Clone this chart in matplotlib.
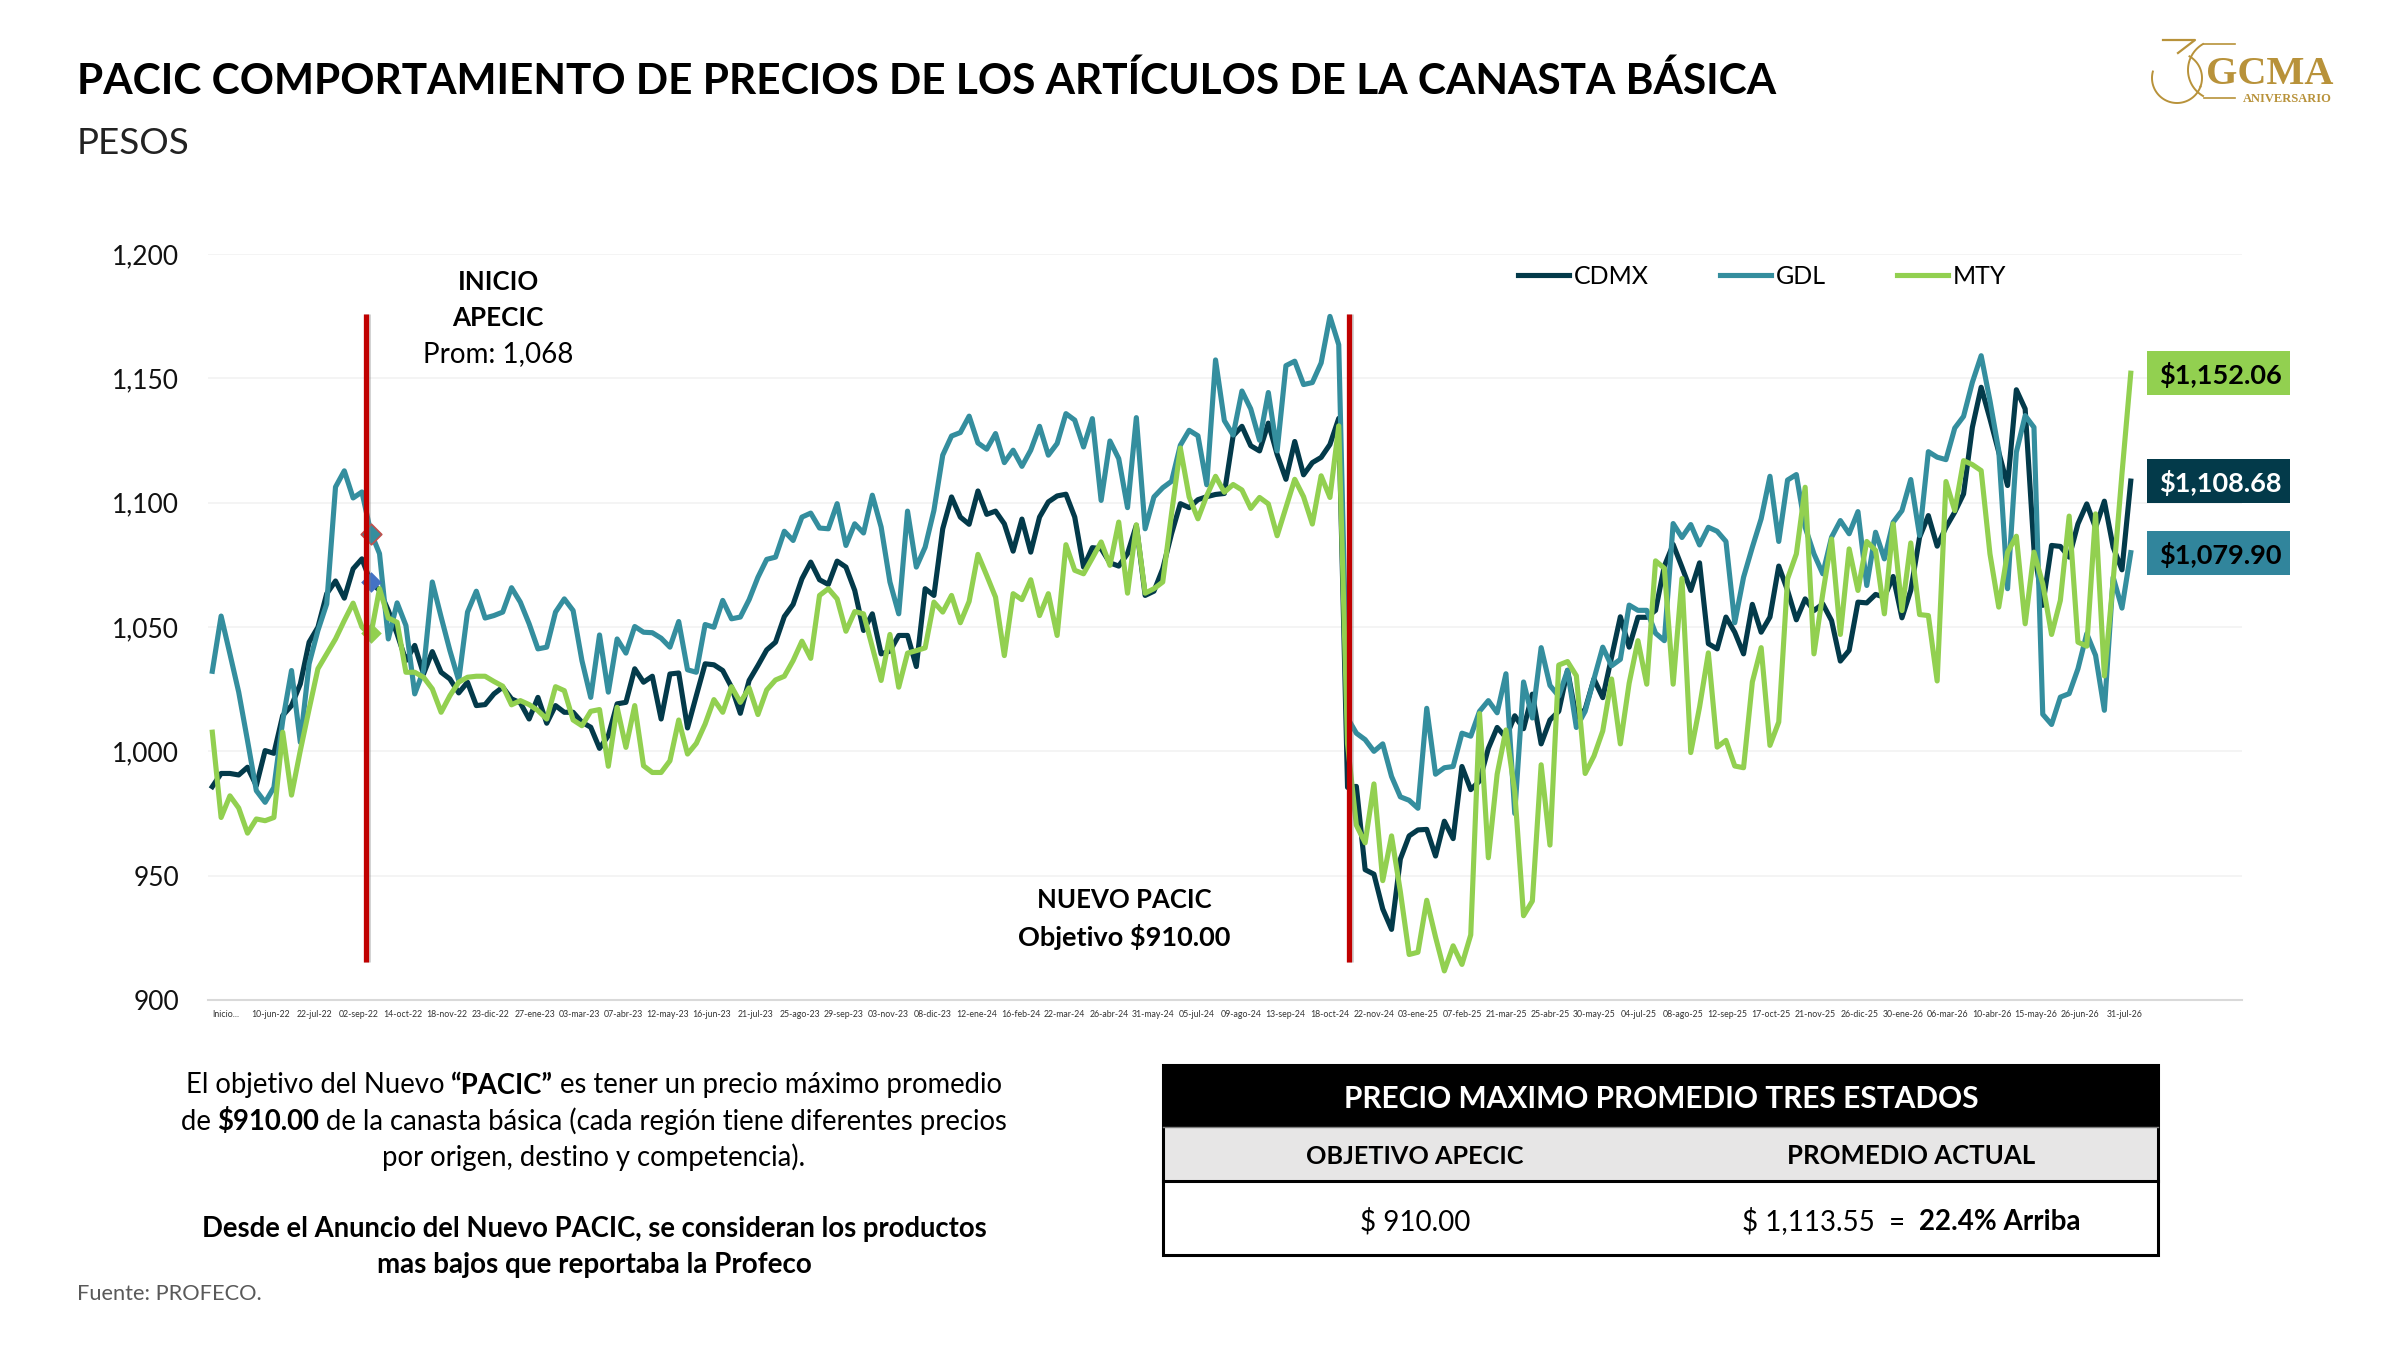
import matplotlib
matplotlib.use("Agg")
import matplotlib.pyplot as plt
from matplotlib.patches import Rectangle
import numpy as np

plt.rcParams["font.family"] = ["Lato", "DejaVu Sans"]

cdmx = [
    985.8, 991.1, 991.1, 990.5, 993.6, 986.2, 1000.3, 999.2, 1014.4, 1018.4,
    1027.1, 1043.9, 1049.9, 1063.4, 1068.5, 1061.6, 1073.4, 1077.4, 1068.1, 1064.7,
    1056.6, 1047.2, 1036.5, 1042.6, 1031.1, 1040.1, 1031.8, 1029.1, 1023.5, 1027.8,
    1018.4, 1018.8, 1023.1, 1025.8, 1021.1, 1019.5, 1013, 1021.7, 1011.3, 1018.4,
    1015.7, 1015.7, 1011.7, 1009.7, 1001.2, 1006.3, 1019.1, 1019.7, 1033.2, 1027.8,
    1030.2, 1013, 1031.1, 1031.5, 1009.4, 1022.4, 1035.2, 1034.8, 1032.5, 1025.8,
    1015.3, 1028.5, 1034.5, 1040.8, 1043.9, 1054.2, 1059.1, 1069.4, 1076.1, 1069,
    1067.1, 1076.5, 1074.1, 1064.7, 1048.6, 1055.3, 1039.2, 1040.3, 1046.6, 1046.6,
    1034.1, 1065.4, 1062.7, 1089.5, 1102.3, 1094.2, 1091.3, 1104.7, 1095.3, 1096.6,
    1091.5, 1080.5, 1093.4, 1080.1, 1094.2, 1100.3, 1102.7, 1103.4, 1094.2, 1074.1,
    1081.9, 1081.5, 1075.8, 1074.5, 1079.5, 1090.9, 1062.7, 1064.4, 1073.4, 1087.5,
    1099.6, 1098, 1101.2, 1102.4, 1103.3, 1103.7, 1126.9, 1130.7, 1122.9, 1120.8,
    1132, 1119.4, 1109.4, 1124.6, 1111.2, 1116.1, 1118.2, 1123.4, 1133.9, 985.5,
    985.9, 952.4, 950.6, 936.6, 928.4, 956.7, 966, 968.4, 968.6, 957.9,
    971.9, 964.9, 993.9, 984.6, 988.1, 1001.2, 1009.6, 1005.6, 1014.3, 1009.1,
    1023, 1003, 1012.6, 1016.1, 1032.6, 1013.4, 1016.9, 1029.1, 1021.6, 1037.9,
    1054.1, 1041.9, 1053.9, 1053.9, 1056.7, 1074.5, 1083.2, 1074.1, 1064.7, 1075.8,
    1043.3, 1041.2, 1054, 1047.9, 1039.2, 1059.1, 1047.9, 1054, 1074.5, 1064.7,
    1052.9, 1061.3, 1056.6, 1059.3, 1052.6, 1036.3, 1040.6, 1060, 1059.7, 1063.1,
    1062, 1070.3, 1053.7, 1064.7, 1086.1, 1094.8, 1082.5, 1090.1, 1096.2, 1103.5,
    1130.3, 1146.4, 1133.7, 1120.3, 1106.9, 1145.4, 1137.7, 1081.4, 1058.7, 1082.8,
    1082.4, 1078.1, 1091.5, 1099.5, 1089.9, 1100.6, 1082.1, 1073, 1108.68,
]

gdl = [
    1032.2, 1054.4, 1039.2, 1023.8, 1004.3, 984.2, 979.5, 985.5, 1012.3, 1032.5,
    1003.6, 1035.2, 1048.6, 1059.3, 1106.3, 1112.8, 1101.9, 1104.3, 1088.2, 1079.5,
    1045.2, 1059.7, 1050.6, 1023.1, 1032.5, 1068.1, 1054, 1040.5, 1028.5, 1056,
    1064.4, 1053.6, 1054.6, 1056, 1065.8, 1060, 1051.3, 1041.2, 1041.9, 1056,
    1061.3, 1056.6, 1036.5, 1021.7, 1046.8, 1023.8, 1045.2, 1039.5, 1050.2, 1047.9,
    1047.7, 1045.5, 1041.9, 1052.2, 1032.8, 1031.8, 1051, 1049.9, 1060.7, 1053.3,
    1054, 1061, 1070, 1077.2, 1078.1, 1088.5, 1084.8, 1094.2, 1095.8, 1089.8,
    1089.5, 1099.6, 1082.8, 1091.5, 1087.8, 1103, 1090.2, 1068.1, 1055.3, 1096.6,
    1074.1, 1082.1, 1096.9, 1119.1, 1126.8, 1128.2, 1134.8, 1124, 1121.5, 1127.8,
    1116.1, 1121.1, 1114.6, 1121.1, 1130.7, 1119.1, 1123.8, 1135.8, 1133.2, 1122.4,
    1133.8, 1100.9, 1124.8, 1117.7, 1098, 1134.2, 1089.5, 1102.3, 1106, 1108.6,
    1123.1, 1129.1, 1126.9, 1107.2, 1157.4, 1133, 1127.2, 1144.9, 1137.7, 1125.1,
    1144.3, 1120.8, 1155.1, 1156.9, 1147.5, 1148.3, 1156.2, 1174.9, 1163.5, 1013.4,
    1007.3, 1004.7, 1000, 1003, 989.9, 981.7, 980.3, 977.1, 1017.3, 990.8,
    993.4, 993.9, 1007.3, 1006.1, 1016.1, 1020.4, 1015.5, 1031.2, 975, 1027.9,
    1013.4, 1041.7, 1026.5, 1022.2, 1032.6, 1009.6, 1016.1, 1029.1, 1041.9, 1034.4,
    1037, 1058.8, 1056.7, 1056.7, 1047.5, 1044.5, 1091.6, 1086, 1091.2, 1083,
    1090.1, 1088.5, 1084.4, 1051.7, 1070, 1082.1, 1093.5, 1110.6, 1084.4, 1109.1,
    1111.3, 1090.1, 1079.4, 1071.4, 1086.1, 1092.8, 1087.5, 1096.4, 1066.7, 1088.1,
    1077.4, 1092.1, 1096.8, 1109.3, 1086.8, 1120.5, 1118.3, 1117.3, 1130, 1134.7,
    1148.4, 1159.1, 1141, 1120.9, 1065.4, 1120.3, 1135, 1130.3, 1014.9, 1010.8,
    1021.8, 1023.2, 1033.2, 1047.3, 1038.6, 1016.5, 1070, 1057.6, 1079.9,
]

mty = [
    1007.7, 973.4, 982.1, 977.2, 967.1, 972.8, 972.1, 973.4, 1007.7, 982.4,
    1000.3, 1017, 1033.2, 1039.2, 1045.2, 1052.6, 1059.6, 1050, 1046.6, 1065.4,
    1053.6, 1051.9, 1031.8, 1031.8, 1029.8, 1025.1, 1015.7, 1022.4, 1027.8, 1029.8,
    1030.2, 1030.2, 1028.1, 1026.2, 1018.7, 1020.4, 1018.8, 1016.4, 1013, 1026,
    1024.4, 1012.6, 1010.3, 1016.1, 1016.8, 994, 1017.7, 1001.6, 1018.4, 994.2,
    991.5, 991.5, 996.2, 1012.6, 998.9, 1003.2, 1011, 1020.8, 1015.7, 1026,
    1019.7, 1025.5, 1014.8, 1024.7, 1028.7, 1030.2, 1036.5, 1044.3, 1037.4, 1062.7,
    1065.4, 1061.3, 1048.3, 1056.2, 1055.3, 1041.9, 1028.5, 1047, 1025.8, 1039.5,
    1040.5, 1041.6, 1060, 1056, 1062.7, 1051.7, 1060.3, 1079.2, 1070.7, 1062,
    1038.5, 1063.4, 1061, 1069, 1054.6, 1063.4, 1046.6, 1083.1, 1072.8, 1071.4,
    1077.7, 1084.2, 1074.8, 1092.2, 1063.6, 1091.1, 1063.6, 1065.4, 1068.1, 1095.6,
    1122, 1102.3, 1093.5, 1102.8, 1110.6, 1104.2, 1107.3, 1105.1, 1097.7, 1102.1,
    1099.5, 1086.7, 1098.1, 1109.4, 1102.4, 1091.4, 1110.8, 1102.1, 1130.9, 1003,
    970.3, 963.2, 986.9, 948, 966, 943.6, 918.3, 919.2, 940.1, 925.3,
    911.7, 921.8, 914.3, 926.2, 1015.2, 957.2, 990.8, 1008.6, 983.8, 933.9,
    939.8, 994.6, 962.3, 1034.7, 1036.1, 1030.4, 991.1, 998.1, 1008.2, 1029.1,
    1003, 1027.4, 1044.5, 1027, 1076.6, 1073.6, 1027, 1069.5, 999.5, 1017.8,
    1039.6, 1001.7, 1004.4, 994.1, 993.4, 1027.9, 1041.7, 1002.4, 1011.8, 1069.4,
    1079.4, 1106.2, 1039.2, 1063.3, 1085.4, 1047, 1081.4, 1064.7, 1084.4, 1080.8,
    1055.3, 1091.5, 1056.6, 1083.8, 1055, 1054.6, 1028.3, 1108.5, 1096.8, 1116.9,
    1115.3, 1112.9, 1079.4, 1058, 1080.1, 1086.5, 1051.3, 1080.1, 1067.4, 1047,
    1060.7, 1094.6, 1043.9, 1042.3, 1095.5, 1030.3, 1068.7, 1111.6, 1152.06,
]

date_labels = [
    "Inicio...", "10-jun-22", "22-jul-22", "02-sep-22", "14-oct-22", "18-nov-22",
    "23-dic-22", "27-ene-23", "03-mar-23", "07-abr-23", "12-may-23", "16-jun-23",
    "21-jul-23", "25-ago-23", "29-sep-23", "03-nov-23", "08-dic-23", "12-ene-24",
    "16-feb-24", "22-mar-24", "26-abr-24", "31-may-24", "05-jul-24", "09-ago-24",
    "13-sep-24", "18-oct-24", "22-nov-24", "03-ene-25", "07-feb-25", "21-mar-25",
    "25-abr-25", "30-may-25", "04-jul-25", "08-ago-25", "12-sep-25", "17-oct-25",
    "21-nov-25", "26-dic-25", "30-ene-26", "06-mar-26", "10-abr-26", "15-may-26",
    "26-jun-26", "31-jul-26",
]
y_ticks = [900, 950, 1000, 1050, 1100, 1150, 1200]

# events and the small diamonds at the start of APECIC
event_x = [17.45, 129.2]
event_low = 915.3
event_high = 1176
marker_x = 18
marker_red = 1087.4
marker_blue = 1068
marker_green = 1047.5

DARK = "#033A4A"
TEAL = "#348E9E"
GREEN = "#92D050"
GOLD = "#B8923A"


def px_text(x, y, s, size, weight="normal", color="black", ha="center"):
    return overlay.text(x, y + 1.5, s, fontsize=size, fontweight=weight, color=color,
                        ha=ha, va="center", parse_math=False)


# line of centred text with bold pieces, parts are (text, weight)
def rich_line(cx, y, parts, size):
    renderer = fig.canvas.get_renderer()
    pieces = [px_text(0, y, s, size, weight=w, ha="left") for s, w in parts]
    widths = [p.get_window_extent(renderer).width for p in pieces]
    x = cx - sum(widths) / 2
    for p, w in zip(pieces, widths):
        p.set_x(x)
        x += w


fig = plt.figure(figsize=(24, 13.5), dpi=100, facecolor="white")

# full page layer in pixels, for the page text, table and logo
overlay = fig.add_axes([0, 0, 1, 1], zorder=3)
overlay.set_xlim(0, 2400)
overlay.set_ylim(1350, 0)
overlay.axis("off")

ax = fig.add_axes([208 / 2400, 1 - 1000 / 1350, (2242 - 208) / 2400, (1000 - 254) / 1350])
x = np.arange(len(cdmx))

ax.plot(x, cdmx, color=DARK, lw=3.7, label="CDMX", solid_joinstyle="round", zorder=3)
ax.plot(x, gdl, color=TEAL, lw=3.7, label="GDL", solid_joinstyle="round", zorder=4)
ax.plot(x, mty, color=GREEN, lw=3.7, label="MTY", solid_joinstyle="round", zorder=5)

ax.scatter([marker_x], [marker_red], marker="D", s=110, color=TEAL, edgecolor="#C0504D", lw=1.2, zorder=6)
ax.scatter([marker_x], [marker_blue], marker="D", s=110, color="#4472C4", lw=0, zorder=6)
ax.scatter([marker_x], [marker_green], marker="D", s=110, color=GREEN, lw=0, zorder=6)

ax.vlines([v + 0.12 for v in event_x], event_low, event_high, color="#808080", lw=5, alpha=0.35, zorder=6)
ax.vlines(event_x, event_low, event_high, color="#C00000", lw=3.8, zorder=7)

ax.set_xlim(-0.49, 230.64)
ax.set_ylim(900, 1200)
ax.set_yticks(y_ticks)
ax.set_yticklabels([f"{v:,}" for v in y_ticks], fontsize=19, color="#111111")
ax.set_xticks(np.arange(len(date_labels)) * 5.016 + 1.56)
ax.set_xticklabels(date_labels, fontsize=6.3, color="#333333")
ax.tick_params(axis="both", length=0)
ax.tick_params(axis="y", pad=20.7)
ax.tick_params(axis="x", pad=7)
ax.grid(axis="y", color="#F2F2F2", lw=1.2)
ax.set_axisbelow(True)
for side in ["top", "right", "left"]:
    ax.spines[side].set_visible(False)
ax.spines["bottom"].set_color("#D9D9D9")
ax.spines["bottom"].set_linewidth(1.5)

ax.legend(loc="center left", bbox_to_anchor=(1518 / 2400, 1 - 276.5 / 1350),
          bbox_transform=fig.transFigure, ncol=3, frameon=False, fontsize=18,
          handlelength=2.04, handletextpad=0.2, columnspacing=2.84, borderpad=0, borderaxespad=0)

# titles
px_text(77, 80, "PACIC COMPORTAMIENTO DE PRECIOS DE LOS ARTÍCULOS DE LA CANASTA BÁSICA", 30.5, weight="bold", ha="left")
px_text(77, 142, "PESOS", 26.5, ha="left", color="#222222")

# notes on the chart
px_text(498, 281, "INICIO", 18.6, weight="bold")
px_text(498, 317, "APECIC", 18.7, weight="bold")
px_text(498, 353, "Prom: 1,068", 20)
px_text(1124, 899, "NUEVO PACIC", 18.5, weight="bold")
px_text(1124, 935, "Objetivo $910.00", 19.5, weight="bold")

# last value boxes
value_boxes = [
    (351, "$1,152.06", GREEN, "black"),
    (459, "$1,108.68", DARK, "white"),
    (531, "$1,079.90", "#31859C", "black"),
]
for top, label, face, ink in value_boxes:
    overlay.add_patch(Rectangle((2147, top), 143, 44, facecolor=face, edgecolor="none"))
    px_text(2220, top + 22, label, 19.5, weight="bold", color=ink)

# text under the chart
rich_line(594, 1084, [("El objetivo del Nuevo ", "normal"), ("“PACIC”", "bold"), (" es tener un precio máximo promedio", "normal")], 19.8)
rich_line(594, 1120, [("de ", "normal"), ("$910.00", "bold"), (" de la canasta básica (cada región tiene diferentes precios", "normal")], 19.8)
rich_line(594, 1156, [("por origen, destino y competencia).", "normal")], 19.8)
px_text(594, 1228, "Desde el Anuncio del Nuevo PACIC, se consideran los productos", 19.8, weight="bold")
px_text(594, 1264, "mas bajos que reportaba la Profeco", 20, weight="bold")
px_text(77, 1292, "Fuente: PROFECO.", 15.7, color="#595959", ha="left")

# table
overlay.add_patch(Rectangle((1163, 1065), 995, 62, facecolor="black", edgecolor="none"))
overlay.add_patch(Rectangle((1163, 1127), 995, 54, facecolor="#E7E6E6", edgecolor="none"))
overlay.add_patch(Rectangle((1163, 1065), 995, 190, facecolor="none", edgecolor="black", lw=2.2))
overlay.plot([1163, 2158], [1181, 1181], color="black", lw=2.2)
overlay.plot([1163, 2158], [1127, 1127], color="#808080", lw=1)
px_text(1661, 1097, "PRECIO MAXIMO PROMEDIO TRES ESTADOS", 21.5, weight="bold", color="white")
px_text(1415, 1155, "OBJETIVO APECIC", 18.2, weight="bold")
px_text(1911, 1155, "PROMEDIO ACTUAL", 18.5, weight="bold")
px_text(1415, 1220, "$ 910.00", 20)
rich_line(1911, 1220, [("$ 1,113.55  =  ", "normal"), ("22.4% Arriba", "bold")], 20)


# logo
def arc(cx, cy, r, a0, a1, lw):
    t = np.radians(np.linspace(a0, a1, 60))
    overlay.plot(cx + r * np.cos(t), cy + r * np.sin(t), color=GOLD, lw=lw)


overlay.plot([2163, 2195, 2178], [40, 40, 53], color=GOLD, lw=1.6)
arc(2177, 78, 25, 20, 195, 1.4)
arc(2177, 78, 25, -60, 20, 1.4)
arc(2218, 70, 30, 120, 240, 1.4)
overlay.plot([2204, 2235], [44, 44], color=GOLD, lw=1.2)
overlay.plot([2204, 2235], [98, 98], color=GOLD, lw=1.2)
overlay.text(2270, 74, "GCMA", fontsize=29, color=GOLD, family="Liberation Serif", fontweight="bold", ha="center", va="center")
overlay.text(2287, 98.5, "ANIVERSARIO", fontsize=9, color=GOLD, family="Liberation Serif", fontweight="bold", ha="center", va="center")

fig.savefig("out.png", dpi=100)
